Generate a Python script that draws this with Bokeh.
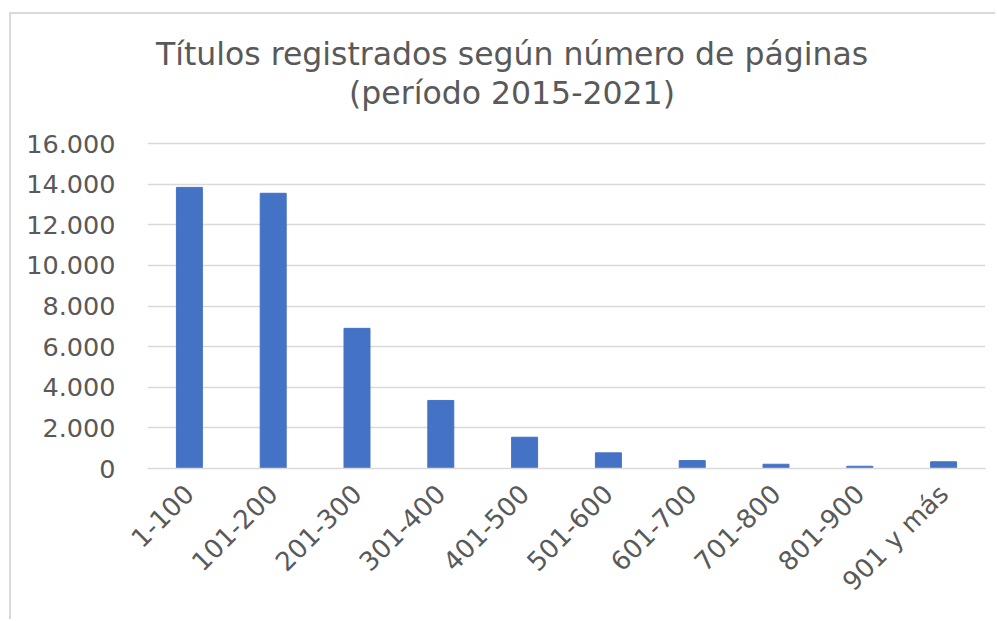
from bokeh.plotting import figure
from bokeh.models import ColumnDataSource, Label, CustomJSTickFormatter, FixedTicker
from bokeh.embed import file_html
from bokeh.resources import INLINE
import math

categories = ["1-100", "101-200", "201-300", "301-400", "401-500",
              "501-600", "601-700", "701-800", "801-900", "901 y más"]
values = [13840, 13550, 6900, 3350, 1540, 770, 390, 210, 110, 330]
y_ticks = [0, 2000, 4000, 6000, 8000, 10000, 12000, 14000, 16000]
title_line1 = "Títulos registrados según número de páginas"
title_line2 = "(período 2015-2021)"

FONT = "DejaVu Sans"
TXT = "#595959"
GRID = "#d9d9d9"

# frame spans the whole canvas height above the x axis; the value scale puts
# 16.000 at 129 px below the canvas top (325 px for 16.000)
FRAME_H = 454
SCALE = 325 / 16000
Y_END = FRAME_H / SCALE

src = ColumnDataSource(dict(cat=categories, val=values))

p = figure(x_range=categories, y_range=(0, Y_END), width=986, height=607,
           output_backend="svg", toolbar_location=None,
           min_border_left=136, min_border_right=12,
           min_border_top=0, min_border_bottom=153)

p.vbar(x="cat", top="val", width=0.31, source=src,
       fill_color="#4472C4", line_color="#4472C4", line_width=1)

p.outline_line_color = None
p.background_fill_color = "white"
p.border_fill_color = "white"

p.xgrid.grid_line_color = None
p.ygrid.grid_line_color = GRID
p.ygrid.grid_line_width = 1.5
p.ygrid.ticker = FixedTicker(ticks=y_ticks)

p.yaxis.ticker = FixedTicker(ticks=y_ticks)
p.yaxis.formatter = CustomJSTickFormatter(
    code="return Math.round(tick).toString().replace(/\\B(?=(\\d{3})+(?!\\d))/g, '.');")
p.yaxis.axis_line_color = None
p.yaxis.major_tick_line_color = None
p.yaxis.minor_tick_line_color = None
p.yaxis.major_label_text_font = FONT
p.yaxis.major_label_text_font_size = "25.5px"
p.yaxis.major_label_text_color = TXT
p.yaxis.major_label_standoff = 26

p.xaxis.axis_line_color = GRID
p.xaxis.axis_line_width = 1.5
p.xaxis.major_tick_line_color = None
p.xaxis.minor_tick_line_color = None
p.xaxis.major_label_orientation = math.pi / 4
p.xaxis.major_label_text_font = FONT
p.xaxis.major_label_text_font_size = "26px"
p.xaxis.major_label_text_color = TXT
p.xaxis.major_label_standoff = 15

title_x = 364.5 / 83.8
for txt, px_from_top in [(title_line1, 39.6), (title_line2, 78.5)]:
    p.add_layout(Label(x=title_x, y=(FRAME_H - px_from_top) / SCALE,
                       text=txt, text_align="center", text_baseline="alphabetic",
                       text_font=FONT, text_font_size="31.5px", text_color=TXT))

p.styles = {"margin-left": "9px", "margin-top": "12px",
            "border-left": "2px solid #d9d9d9", "border-top": "2px solid #d9d9d9"}

open("out.html", "w").write(file_html(p, INLINE))
